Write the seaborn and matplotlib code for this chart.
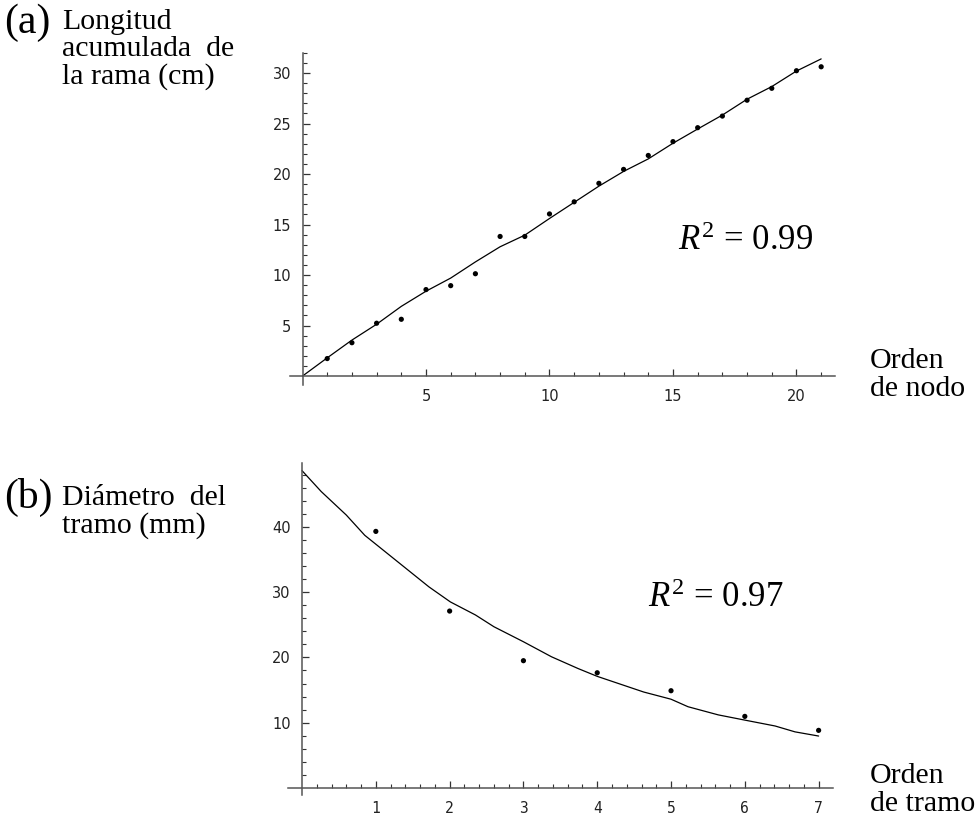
import matplotlib
matplotlib.use("Agg")
import matplotlib.pyplot as plt
import seaborn as sns
import pandas as pd
from matplotlib.ticker import FixedLocator

# ---------------- data ----------------
node_order = list(range(1, 22))
branch_length = [1.73, 3.3, 5.23, 5.62, 8.56, 8.95, 10.13, 13.82, 13.82, 16.05,
                 17.25, 19.08, 20.46, 21.84, 23.21, 24.59, 25.74, 27.31, 28.49,
                 30.23, 30.62]
fit_a_x = list(range(0, 22))
fit_a_y = [0, 1.8, 3.56, 5.13, 6.9, 8.4, 9.7, 11.3, 12.8, 13.95, 15.6, 17.2,
           18.8, 20.26, 21.5, 23.05, 24.46, 25.84, 27.41, 28.66, 30.2, 31.4]

segment_order = list(range(1, 8))
segment_diam = [39.3, 27.1, 19.5, 17.65, 14.9, 10.97, 8.83]
fit_b_x = [0, 0.26, 0.6, 0.85, 1.72, 2.01, 2.35, 2.6, 3.0, 3.38, 3.74, 4.0,
           4.63, 5.0, 5.23, 5.64, 6.0, 6.41, 6.68, 7.0]
fit_b_y = [48.6, 45.4, 41.8, 38.7, 30.8, 28.5, 26.5, 24.7, 22.4, 20.1, 18.3,
           17.1, 14.7, 13.6, 12.45, 11.2, 10.4, 9.5, 8.6, 7.96]

xticks_a = [5, 10, 15, 20]
yticks_a = [5, 10, 15, 20, 25, 30]
xticks_b = [1, 2, 3, 4, 5, 6, 7]
yticks_b = [10, 20, 30, 40]

df_a = pd.DataFrame({"x": node_order, "y": branch_length})
df_fa = pd.DataFrame({"x": fit_a_x, "y": fit_a_y})
df_b = pd.DataFrame({"x": segment_order, "y": segment_diam})
df_fb = pd.DataFrame({"x": fit_b_x, "y": fit_b_y})

# ---------------- style ----------------
sns.set_theme(style="ticks")
plt.rcParams["font.family"] = ["DejaVu Sans"]
plt.rcParams["mathtext.fontset"] = "custom"
plt.rcParams["mathtext.rm"] = "Liberation Serif"
plt.rcParams["mathtext.it"] = "Liberation Serif:italic"

W, H = 977, 827
fig = plt.figure(figsize=(W / 100, H / 100), dpi=100)
fig.patch.set_facecolor("white")

ax1 = fig.add_axes([0.297, 0.5343, 0.5574, 0.4018])
ax2 = fig.add_axes([0.2948, 0.03845, 0.5582, 0.4019])

AX_COL = "#555555"


def style_axis(ax, xlim, ylim, xmaj, xmin, ymaj, ymin, xfont, yfont):
    ax.set_facecolor("white")
    ax.set_xlim(*xlim)
    ax.set_ylim(*ylim)
    for s in ["top", "right"]:
        ax.spines[s].set_visible(False)
    for s in ["left", "bottom"]:
        ax.spines[s].set_position(("data", 0))
        ax.spines[s].set_color(AX_COL)
        ax.spines[s].set_linewidth(1.1)
    ax.xaxis.set_major_locator(FixedLocator(xmaj))
    ax.xaxis.set_minor_locator(FixedLocator(xmin))
    ax.yaxis.set_major_locator(FixedLocator(ymaj))
    ax.yaxis.set_minor_locator(FixedLocator(ymin))
    ax.set_xticklabels([str(v) for v in xmaj], fontfamily=xfont, fontsize=10.5,
                       color="#222222")
    ax.set_yticklabels([str(v) for v in ymaj], fontfamily=yfont, fontsize=10.5,
                       color="#222222")
    ax.tick_params(which="major", direction="in", length=5, width=0.9,
                   color="#333333", pad=9)
    ax.tick_params(which="minor", direction="in", length=3, width=0.8,
                   color="#333333")
    ax.tick_params(axis="y", which="major", pad=8)
    ax.set_xlabel("")
    ax.set_ylabel("")


# ---------------- panel (a) ----------------
sns.lineplot(data=df_fa, x="x", y="y", ax=ax1, color="black", linewidth=0.9,
             sort=False, estimator=None)
sns.scatterplot(data=df_a, x="x", y="y", ax=ax1, color="black", s=14,
                edgecolor="none", legend=False)
style_axis(ax1, (-0.5, 21.55), (-0.9, 32.0), xticks_a,
           [v for v in range(1, 22) if v % 5], yticks_a,
           [v for v in range(1, 33) if v % 5], "DejaVu Sans", "DejaVu Sans")

# ---------------- panel (b) ----------------
sns.lineplot(data=df_fb, x="x", y="y", ax=ax2, color="black", linewidth=0.9,
             sort=False, estimator=None)
sns.scatterplot(data=df_b, x="x", y="y", ax=ax2, color="black", s=14,
                edgecolor="none", legend=False)
style_axis(ax2, (-0.19, 7.2), (-1.1, 49.8), xticks_b,
           [round(i * 0.2, 1) for i in range(1, 36) if i % 5], yticks_b,
           [v for v in range(2, 50, 2) if v % 10], "DejaVu Sans Mono",
           "DejaVu Sans")

# ---------------- texts ----------------
SERIF = "Liberation Serif"


def ftext(xp, yp, s, size, **kw):
    fig.text(xp / W, 1 - yp / H, s, fontsize=size, family=SERIF,
             va="baseline", ha="left", color="black", **kw)


LBL = 21.5
ftext(4, 33, "(a)", 30)
ftext(62, 29, "Longitud", LBL)
ftext(62, 56, "acumulada  de", LBL)
ftext(62, 84, "la rama (cm)", LBL)

ftext(4, 508, "(b)", 30)
ftext(62, 505, "Diámetro  del", LBL)
ftext(62, 533, "tramo (mm)", LBL)

ftext(870, 368, "Orden", LBL)
ftext(870, 396, "de nodo", LBL)
ftext(870, 783, "Orden", LBL)
ftext(870, 811, "de tramo", LBL)

ftext(678, 250, r"$R^{\mathrm{2}}$ = 0.99", 25)
ftext(648, 607, r"$R^{\mathrm{2}}$ = 0.97", 25)

fig.savefig("out.png", dpi=100, facecolor="white")
